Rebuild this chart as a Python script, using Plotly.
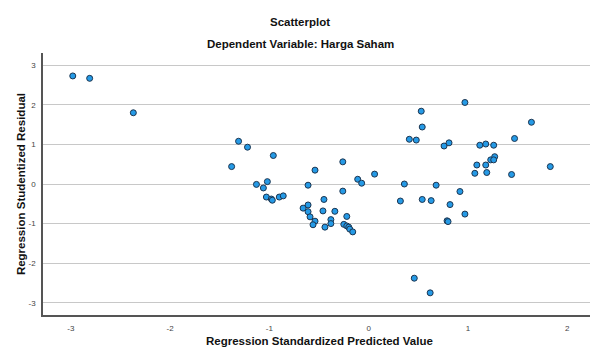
import plotly.graph_objects as go

# Regression standardized predicted value (x) and studentized residual (y)
pred = [-2.98, -2.81, -2.37,
        -1.31, -1.22, -0.96, -1.38, -0.26, -0.54, 0.06, -0.11, -0.07,
        -1.13, -1.02, -1.06, -0.61, -0.26, -1.03, -0.98, -0.97, -0.90, -0.86,
        -0.45, -0.61, -0.66, -0.61, -0.46, -0.34, -0.59, -0.54, -0.56, -0.22,
        -0.38, -0.38, -0.44, -0.25, -0.22, -0.20, -0.19, -0.16,
        0.97, 0.53, 0.54, 1.64, 0.41, 0.48, 1.47, 0.76, 0.81, 1.12, 1.18, 1.26,
        1.27, 1.23, 1.26, 1.09, 1.18, 1.07, 1.19, 1.44, 1.83,
        0.36, 0.68, 0.92, 0.32, 0.54, 0.63, 0.82, 0.97, 0.79, 0.80,
        0.46, 0.62]
resid = [2.73, 2.67, 1.80,
         1.08, 0.93, 0.72, 0.44, 0.56, 0.35, 0.25, 0.12, 0.02,
         -0.01, 0.06, -0.10, -0.03, -0.18, -0.33, -0.38, -0.41, -0.33, -0.30,
         -0.39, -0.53, -0.61, -0.70, -0.68, -0.69, -0.83, -0.94, -1.03, -0.82,
         -0.90, -1.00, -1.09, -1.02, -1.06, -1.09, -1.14, -1.21,
         2.06, 1.84, 1.44, 1.56, 1.13, 1.11, 1.15, 0.96, 1.04, 0.98, 1.01, 0.98,
         0.69, 0.61, 0.61, 0.48, 0.48, 0.27, 0.29, 0.24, 0.44,
         0.00, -0.03, -0.19, -0.43, -0.39, -0.42, -0.52, -0.76, -0.93, -0.95,
         -2.38, -2.75]

x_ticks = [-3, -2, -1, 0, 1, 2]
y_ticks = [-3, -2, -1, 0, 1, 2, 3]

FONT = "Liberation Sans, Arial, sans-serif"
TSIZE = 11.5

fig = go.Figure()
fig.add_trace(go.Scatter(
    x=pred, y=resid, mode="markers",
    marker=dict(size=6, color="#259ae6", line=dict(color="#1c3550", width=1)),
    hoverinfo="x+y", showlegend=False,
))

fig.update_layout(
    width=592, height=349,
    margin=dict(l=43, r=2, t=53, b=34),
    paper_bgcolor="white", plot_bgcolor="white",
    font=dict(family=FONT, color="#222"),
    xaxis=dict(range=[-3.28, 2.23], tickvals=x_ticks, ticktext=[str(v) for v in x_ticks],
               showgrid=False, zeroline=False, showline=True, linecolor="#555", linewidth=2,
               ticks="", tickfont=dict(size=8, color="#444"), ticklabelstandoff=4),
    yaxis=dict(range=[-3.31, 3.31], tickvals=y_ticks, ticktext=[str(v) for v in y_ticks],
               showgrid=True, gridcolor="#c8c8c8", gridwidth=1, zeroline=False,
               showline=True, linecolor="#555", linewidth=1.5,
               ticks="", tickfont=dict(size=8, color="#444"), ticklabelstandoff=4),
    annotations=[
        dict(text="<b>Scatterplot</b>", xref="paper", yref="paper", x=0.47, y=1.118,
             showarrow=False, font=dict(size=TSIZE, family=FONT, color="#111"),
             xanchor="center", yanchor="middle"),
        dict(text="<b>Dependent Variable: Harga Saham</b>", xref="paper", yref="paper",
             x=0.47, y=1.034, showarrow=False, font=dict(size=TSIZE, family=FONT, color="#111"),
             xanchor="center", yanchor="middle"),
        dict(text="<b>Regression Standardized Predicted Value</b>", xref="paper", yref="paper",
             x=0.506, y=-0.1, showarrow=False, font=dict(size=TSIZE, family=FONT, color="#111"),
             xanchor="center", yanchor="middle"),
        dict(text="<b>Regression Studentized Residual</b>", xref="paper", yref="paper",
             x=-0.04, y=0.5, showarrow=False, textangle=-90,
             font=dict(size=TSIZE, family=FONT, color="#111"),
             xanchor="center", yanchor="middle"),
    ],
)

fig.write_html("out.html",
               config={"displayModeBar": False},
               post_script="document.body.style.margin='0';document.body.style.padding='0';")
